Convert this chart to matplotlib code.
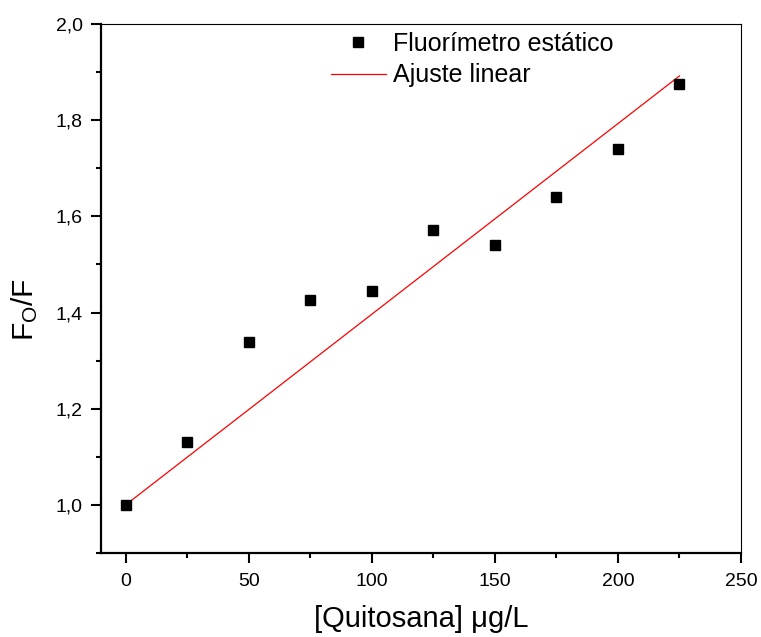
import numpy as np
import matplotlib
matplotlib.use('Agg')
import matplotlib.pyplot as plt
from matplotlib.ticker import MultipleLocator, FuncFormatter

plt.rcParams['font.family'] = ['Liberation Sans', 'DejaVu Sans']
plt.rcParams['mathtext.fontset'] = 'custom'
plt.rcParams['mathtext.rm'] = 'Liberation Sans'
plt.rcParams['mathtext.it'] = 'Liberation Sans'

# data
conc = [0, 25, 50, 75, 100, 125, 150, 175, 200, 225]
f0_f = [1.000, 1.131, 1.338, 1.426, 1.444, 1.572, 1.541, 1.641, 1.740, 1.875]
fit_x = [0, 225]
fit_y = [1.000, 1.892]

fig = plt.figure(figsize=(7.61, 6.37), dpi=100)
ax = fig.add_axes([101/761, 1 - 553/637, 640/761, 529/637])

ax.plot(conc, f0_f, 's', color='black', markersize=6.5, label='Fluorímetro estático', zorder=3)
ax.plot(fit_x, fit_y, '-', color='red', linewidth=0.9, label='Ajuste linear', zorder=2)

ax.set_xlim(-10, 250)
ax.set_ylim(0.9, 2.0)

ax.xaxis.set_major_locator(MultipleLocator(50))
ax.xaxis.set_minor_locator(MultipleLocator(25))
ax.yaxis.set_major_locator(MultipleLocator(0.2))
ax.yaxis.set_minor_locator(MultipleLocator(0.1))
ax.yaxis.set_major_formatter(FuncFormatter(lambda v, p: f'{v:.1f}'.replace('.', ',')))

ax.tick_params(which='major', direction='out', length=7, width=1.5, labelsize=14)
ax.tick_params(which='minor', direction='out', length=3.6, width=1.5)
ax.tick_params(axis='x', which='major', pad=7.5)
ax.tick_params(axis='y', which='major', pad=6)
ax.tick_params(top=False, right=False, which='both')

for s in ['left', 'bottom']:
    ax.spines[s].set_linewidth(1.6)
for s in ['top', 'right']:
    ax.spines[s].set_linewidth(0.8)

ax.set_xlabel('[Quitosana] μg/L', fontsize=21, labelpad=11)
ax.set_ylabel(r'F$_\mathregular{O}$/F', fontsize=21.5)
ax.yaxis.set_label_coords(-0.095, 0.46)

ax.legend(loc='upper left', bbox_to_anchor=(0.359, 0.985), frameon=False, fontsize=18,
          handlelength=2.2, handletextpad=0.28, labelspacing=0.3,
          borderaxespad=0.0, borderpad=0.0, numpoints=1)

fig.savefig('out.png', dpi=100)
